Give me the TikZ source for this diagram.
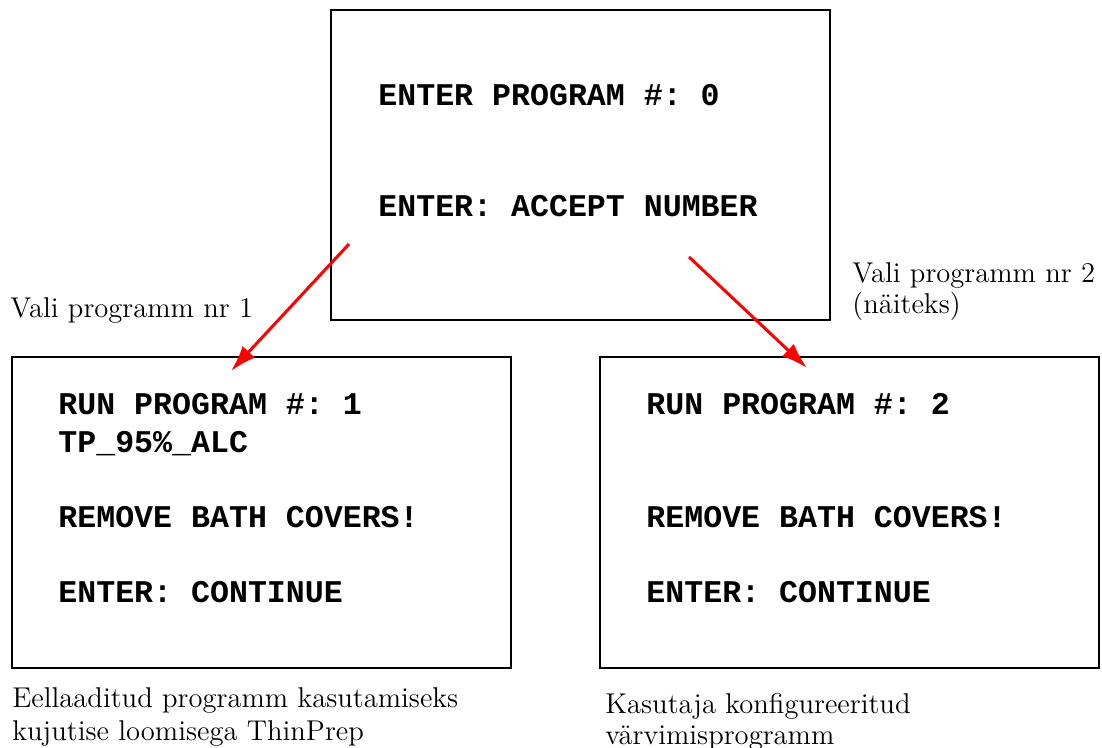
\documentclass[tikz,border=0pt]{standalone}
\usepackage{fontspec}
\setmonofont{Liberation Mono}
\usetikzlibrary{arrows.meta}

\begin{document}
\begin{tikzpicture}[x=0.5pt,y=-0.5pt,
        screen/.style={draw,line width=1pt,minimum width=249.5pt,minimum height=155pt,inner sep=0pt},
        lcd/.style={anchor=base west,inner sep=0pt,font=\ttfamily\bfseries\fontsize{15.8}{18.5}\selectfont},
        note/.style={anchor=base west,inner sep=0pt,font=\fontsize{14.3}{16.5}\selectfont},
        pick/.style={red,line width=1.5pt,-{Latex[length=13pt,width=8.5pt]}}]
                \useasboundingbox (0,0) rectangle (1102,748);
                % the three screens
                \node[screen] (start) at (580.5,165) {};
                \node[screen] (prog1) at (261.5,512.5) {};
                \node[screen] (prog2) at (849.5,512.5) {};
                % screen texts
                \node[lcd] (s0a) at (378,106) {ENTER PROGRAM \#: 0};
                \node[lcd] (s0b) at (378,217) {ENTER: ACCEPT NUMBER};
                \node[lcd] (s1a) at (58,415) {RUN PROGRAM \#: 1};
                \node[lcd] (s1b) at (58,452) {TP\_95\%\_ALC};
                \node[lcd] (s1c) at (58,527) {REMOVE BATH COVERS!};
                \node[lcd] (s1d) at (58,602) {ENTER: CONTINUE};
                \node[lcd] (s2a) at (646,415) {RUN PROGRAM \#: 2};
                \node[lcd] (s2c) at (646,527) {REMOVE BATH COVERS!};
                \node[lcd] (s2d) at (646,602) {ENTER: CONTINUE};
                % notes
                \node[note] (n1) at (10,318) {Vali programm nr 1};
                \node[note] (n2a) at (852,283) {Vali programm nr 2};
                \node[note] (n2b) at (852,314) {(näiteks)};
                \node[note] (d1a) at (12,707) {Eellaaditud programm kasutamiseks};
                \node[note] (d1b) at (12,740) {kujutise loomisega ThinPrep};
                \node[note] (d2a) at (605,713) {Kasutaja konfigureeritud};
                \node[note] (d2b) at (605,744) {värvimisprogramm};
                % arrows
                \coordinate (from1) at (349,244);
                \coordinate (to1) at (231,371);
                \coordinate (from2) at (689,257);
                \coordinate (to2) at (807,368);
                \draw[pick] (from1)--(to1);
                \draw[pick] (from2)--(to2);
            \end{tikzpicture}
\end{document}
